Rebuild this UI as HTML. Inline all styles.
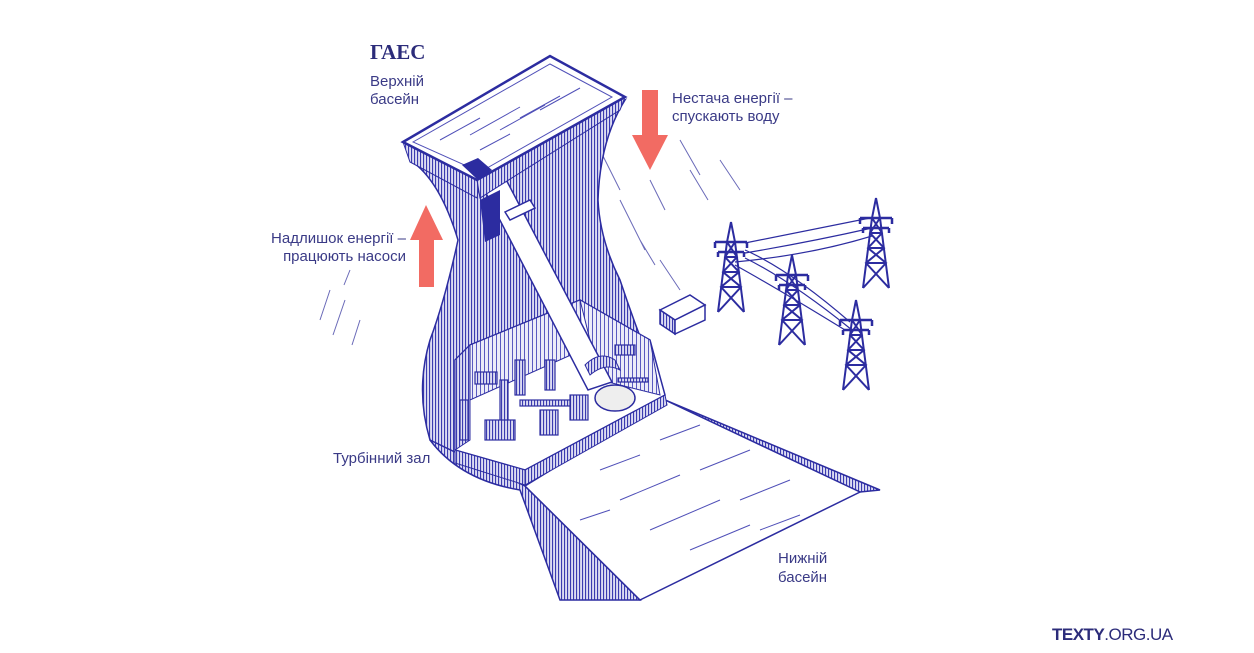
<!DOCTYPE html>
<html><head><meta charset="utf-8"><style>
html,body{margin:0;padding:0;background:#fff}
svg{display:block}
text{font-family:"Liberation Sans",sans-serif;fill:#3a3a86}
</style></head><body>
<svg width="1254" height="653" viewBox="0 0 1254 653" xmlns="http://www.w3.org/2000/svg">
<defs>
<pattern id="h" width="3" height="3" patternUnits="userSpaceOnUse"><rect width="3" height="3" fill="#dcdcf2"/><rect width="1.1" height="3" fill="#3b3bb0"/></pattern>
<pattern id="hl" width="4" height="4" patternUnits="userSpaceOnUse"><rect width="4" height="4" fill="#ececf8"/><rect width="1" height="4" fill="#5a5ac0"/></pattern>
<g id="tw" stroke="#2c2ca0" stroke-width="2" fill="none">
<path d="M0 0 L-4 20 L-13 90 M0 0 L4 20 L13 90 M-4 20 L4 20 M-6 35 L6 35 M-8 50 L8 50 M-10 65 L10 65 M-4 20 L6 35 L-8 50 L10 65 L-13 90 M4 20 L-6 35 L8 50 L-10 65 L13 90"/>
<path d="M-16 20 L16 20 M-13 30 L13 30 M-16 20 v6 M16 20 v6 M-13 30 v5 M13 30 v5" stroke-width="2.5"/>
</g>
</defs>

<g stroke="#6a6ab8" stroke-width="1" fill="none">
<path d="M330 290 l-10 30 M345 300 l-12 35 M360 320 l-8 25 M350 270 l-6 15 M600 150 l20 40 M620 200 l25 50 M650 180 l15 30 M690 170 l18 30 M680 140 l20 35 M720 160 l20 30 M640 240 l15 25 M660 260 l20 30"/>
</g>

<path d="M410 160 Q440 180 458 240 Q445 300 430 340 Q415 390 430 440 L470 470 L525 486 L560 470 L665 400 Q640 340 620 280 Q600 240 598 200 Q600 140 625 100 L478 180 Z" fill="url(#h)" stroke="#2c2ca0" stroke-width="1.5"/>
<path d="M430 440 Q460 480 520 490 L560 600 L640 600 L525 486 Z" fill="url(#h)" stroke="#2c2ca0" stroke-width="1.5"/>
<path d="M665 400 L880 490 L860 492 L650 410 Z" fill="url(#h)" stroke="#2c2ca0" stroke-width="1.5"/>
<path d="M525 486 L665 400 L860 492 L640 600 Z" fill="#fff" stroke="#2c2ca0" stroke-width="1.5"/>
<g stroke="#5050b8" stroke-width="1"><path d="M600 470 l40 -15 M620 500 l60 -25 M650 530 l70 -30 M690 550 l60 -25 M700 470 l50 -20 M740 500 l50 -20 M760 530 l40 -15 M580 520 l30 -10 M660 440 l40 -15"/></g>

<path d="M455 360 L470 345 L580 300 L650 340 L665 395 L525 470 L455 450 Z" fill="#fff" stroke="#2c2ca0" stroke-width="1.5"/>
<path d="M455 360 L470 345 L470 440 L455 450 Z" fill="url(#h)" stroke="#2c2ca0"/>
<path d="M470 345 L580 300 L582 350 L470 400 Z" fill="url(#hl)" stroke="#2c2ca0"/>
<path d="M580 300 L650 340 L660 395 L600 380 Z" fill="url(#hl)" stroke="#2c2ca0"/>
<path d="M455 450 L525 470 L525 485 L455 463 Z" fill="url(#h)" stroke="#2c2ca0"/>
<path d="M525 470 L665 395 L667 405 L525 485 Z" fill="url(#h)" stroke="#2c2ca0"/>
<g fill="url(#h)" stroke="#2c2ca0" stroke-width="1.2">
<rect x="475" y="372" width="22" height="12"/><rect x="460" y="400" width="8" height="40"/><rect x="500" y="380" width="8" height="45"/>
<rect x="485" y="420" width="30" height="20"/><rect x="515" y="360" width="10" height="35"/><rect x="540" y="410" width="18" height="25"/>
<rect x="570" y="395" width="18" height="25"/><rect x="545" y="360" width="10" height="30"/><rect x="520" y="400" width="50" height="6"/>
<rect x="618" y="378" width="30" height="4"/><rect x="615" y="345" width="20" height="10"/>
</g>
<ellipse cx="615" cy="398" rx="20" ry="13" fill="#eee" stroke="#2c2ca0" stroke-width="1.5"/>

<path d="M475 172 L500 168 L612 382 L588 390 Z" fill="#fff" stroke="#2c2ca0" stroke-width="1.5"/>
<path d="M480 200 L500 190 L500 235 L485 242 Z" fill="#2c2ca0"/>
<path d="M505 212 l25 -12 l5 8 l-25 12 Z" fill="#fff" stroke="#2c2ca0" stroke-width="1.5"/>
<path d="M585 365 q15 -15 30 -5 l5 10 q-15 -8 -30 5 Z" fill="url(#h)" stroke="#2c2ca0"/>

<path d="M403 142 L410 162 L477 198 L480 180 Z" fill="url(#h)" stroke="#2c2ca0"/>
<path d="M477 180 L625 97 L620 110 L480 198 Z" fill="url(#h)" stroke="#2c2ca0"/>
<path d="M403 142 L550 56 L625 97 L477 180 Z" fill="#fff" stroke="#2c2ca0" stroke-width="2.5"/>
<path d="M413 142 L550 64 L612 97 L480 172 Z" fill="#fff" stroke="#5050b8" stroke-width="1"/>
<g stroke="#5050b8" stroke-width="1"><path d="M440 140 l40 -22 M470 135 l50 -28 M500 130 l45 -25 M480 150 l30 -16 M520 118 l40 -22 M540 110 l40 -22"/></g>
<path d="M462 165 L478 158 L492 170 L478 180 Z" fill="#2c2ca0"/>

<path d="M660 310 L690 295 L705 305 L675 320 Z" fill="#fff" stroke="#2c2ca0" stroke-width="1.5"/>
<path d="M660 310 L675 320 L675 334 L660 324 Z" fill="url(#h)" stroke="#2c2ca0" stroke-width="1.5"/>
<path d="M675 320 L705 305 L705 320 L675 334 Z" fill="#fff" stroke="#2c2ca0" stroke-width="1.5"/>

<g stroke="#2c2ca0" stroke-width="1.2" fill="none">
<path d="M745 243 Q810 230 870 218 M745 253 Q810 242 872 228 M735 262 Q810 255 872 236 M745 250 Q790 270 850 322 M745 258 Q790 280 852 330 M735 265 Q780 290 845 330"/>
</g>
<use href="#tw" x="731" y="222"/>
<use href="#tw" x="876" y="198"/>
<use href="#tw" x="792" y="255"/>
<use href="#tw" x="856" y="300"/>

<path d="M419 287 V240 H410 L426 205 L443 240 H434 V287 Z" fill="#f26b63"/>
<path d="M642 90 V135 H632 L650 170 L668 135 H658 V90 Z" fill="#f26b63"/>

<text x="370" y="59" style="font-family:'Liberation Serif',serif;font-weight:bold;font-size:21px;fill:#2c2c7a">ГАЕС</text>
<text x="370" y="86" font-size="15">Верхній</text>
<text x="370" y="104" font-size="15">басейн</text>
<text x="672" y="103" font-size="15">Нестача енергії –</text>
<text x="672" y="121" font-size="15">спускають воду</text>
<text x="406" y="243" font-size="15" text-anchor="end">Надлишок енергії –</text>
<text x="406" y="261" font-size="15" text-anchor="end">працюють насоси</text>
<text x="333" y="463" font-size="15">Турбінний зал</text>
<text x="778" y="563" font-size="15">Нижній</text>
<text x="778" y="582" font-size="15">басейн</text>
<text x="1052" y="640" font-size="17" style="fill:#2c2c7a;letter-spacing:-0.5px"><tspan font-weight="bold">TEXTY</tspan>.ORG.UA</text>
</svg>
</body></html>
